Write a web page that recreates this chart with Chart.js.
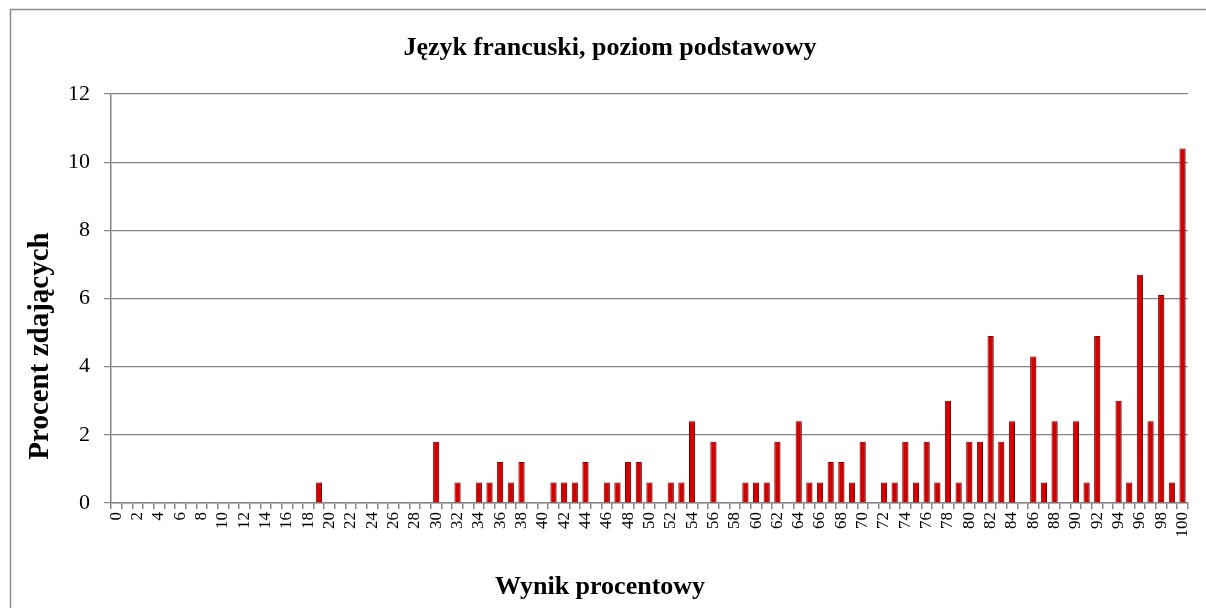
<!DOCTYPE html>
<html lang="pl">
<head>
<meta charset="utf-8">
<title>Język francuski, poziom podstawowy</title>
<script src="https://cdn.jsdelivr.net/npm/chart.js@4.4.1/dist/chart.umd.min.js"></script>
<style>
  html, body { margin: 0; padding: 0; background: #fff; }
  #wrap { width: 1206px; height: 608px; }
</style>
</head>
<body>
<div id="wrap"><canvas id="wynikiChart" width="1206" height="608"></canvas></div>
<script>
// Wynik procentowy (0..100) and percent of test takers for each score
const scores = [
  '0','1','2','3','4','5','6','7','8','9',
  '10','11','12','13','14','15','16','17','18','19',
  '20','21','22','23','24','25','26','27','28','29',
  '30','31','32','33','34','35','36','37','38','39',
  '40','41','42','43','44','45','46','47','48','49',
  '50','51','52','53','54','55','56','57','58','59',
  '60','61','62','63','64','65','66','67','68','69',
  '70','71','72','73','74','75','76','77','78','79',
  '80','81','82','83','84','85','86','87','88','89',
  '90','91','92','93','94','95','96','97','98','99',
  '100'
];

const percent = [
  0, 0, 0, 0, 0, 0, 0, 0, 0, 0,            // 0-9
  0, 0, 0, 0, 0, 0, 0, 0, 0, 0.6,          // 10-19
  0, 0, 0, 0, 0, 0, 0, 0, 0, 0,            // 20-29
  1.8, 0, 0.6, 0, 0.6, 0.6, 1.2, 0.6, 1.2, 0,      // 30-39
  0, 0.6, 0.6, 0.6, 1.2, 0, 0.6, 0.6, 1.2, 1.2,    // 40-49
  0.6, 0, 0.6, 0.6, 2.4, 0, 1.8, 0, 0, 0.6,        // 50-59
  0.6, 0.6, 1.8, 0, 2.4, 0.6, 0.6, 1.2, 1.2, 0.6,  // 60-69
  1.8, 0, 0.6, 0.6, 1.8, 0.6, 1.8, 0.6, 3.0, 0.6,  // 70-79
  1.8, 1.8, 4.9, 1.8, 2.4, 0, 4.3, 0.6, 2.4, 0,    // 80-89
  2.4, 0.6, 4.9, 0, 3.0, 0.6, 6.7, 2.4, 6.1, 0.6,  // 90-99
  10.4                                             // 100
];

const yTicks = [0, 2, 4, 6, 8, 10, 12];

const chartTitle = 'Język francuski, poziom podstawowy';
const xTitle = 'Wynik procentowy';
const yTitle = 'Procent zdających';

const serif = '"Liberation Serif", "Times New Roman", serif';
const axisGrey = '#868686';

// white page, grey frame, chart title and the two axis titles
const frameAndTitlesPlugin = {
  id: 'frameAndTitles',
  beforeDraw: function(chart) {
    const ctx = chart.ctx;
    ctx.save();
    ctx.fillStyle = '#ffffff';
    ctx.fillRect(0, 0, chart.width, chart.height);
    ctx.strokeStyle = '#8a8a8a';
    ctx.lineWidth = 1.5;
    ctx.strokeRect(10.5, 9.5, chart.width + 20, chart.height + 20);
    ctx.restore();
  },
  afterDraw: function(chart) {
    const ctx = chart.ctx;
    ctx.save();
    ctx.fillStyle = '#000';
    ctx.textAlign = 'center';
    ctx.textBaseline = 'middle';
    ctx.font = 'bold 26px ' + serif;
    ctx.fillText(chartTitle, 610, 48);
    ctx.fillText(xTitle, 600, 587);
    ctx.font = 'bold 29px ' + serif;
    ctx.translate(41, 346);
    ctx.rotate(-Math.PI / 2);
    ctx.fillText(yTitle, 0, 0);
    ctx.restore();
  }
};

// soft shadow to the right of the bars
const barShadowPlugin = {
  id: 'barShadow',
  beforeDatasetsDraw: function(chart) {
    const ctx = chart.ctx;
    ctx.save();
    ctx.shadowColor = 'rgba(0, 0, 0, 0.28)';
    ctx.shadowBlur = 3;
    ctx.shadowOffsetX = 2;
    ctx.shadowOffsetY = 0;
  },
  afterDatasetsDraw: function(chart) {
    chart.ctx.restore();
  }
};

const chartConfig = {
  type: 'bar',
  data: {
    labels: scores,
    datasets: [{
      label: yTitle,
      data: percent,
      backgroundColor: '#d40000',
      borderColor: '#8e0000',
      borderWidth: 1,
      categoryPercentage: 1.0,
      barPercentage: 0.58
    }]
  },
  options: {
    responsive: false,
    animation: false,
    layout: { padding: { left: 0, right: 18, top: 94, bottom: 0 } },
    plugins: {
      legend: { display: false },
      tooltip: { enabled: false },
      title: { display: false }
    },
    scales: {
      x: {
        afterFit: function(scale) { scale.height = 105; },
        border: { display: true, color: axisGrey, width: 1.5 },
        grid: {
          display: true,
          offset: true,
          drawOnChartArea: false,
          drawTicks: true,
          tickLength: 6,
          color: axisGrey,
          lineWidth: 1.5
        },
        ticks: {
          autoSkip: false,
          maxRotation: 90,
          minRotation: 90,
          padding: 3,
          color: '#000',
          font: { family: serif, size: 17 },
          callback: function(value, index) {
            return index % 2 === 0 ? this.getLabelForValue(value) : '';
          }
        }
      },
      y: {
        min: 0,
        max: 12,
        afterFit: function(scale) { scale.width = 111; },
        afterBuildTicks: function(scale) {
          scale.ticks = yTicks.map(function(v) { return { value: v }; });
        },
        border: { display: true, color: axisGrey, width: 1.5 },
        grid: {
          color: axisGrey,
          lineWidth: 1.2,
          drawTicks: true,
          tickLength: 7
        },
        ticks: {
          padding: 14,
          color: '#000',
          font: { family: serif, size: 22 }
        }
      }
    }
  },
  plugins: [frameAndTitlesPlugin, barShadowPlugin]
};

new Chart(document.getElementById('wynikiChart').getContext('2d'), chartConfig);
</script>
</body>
</html>
